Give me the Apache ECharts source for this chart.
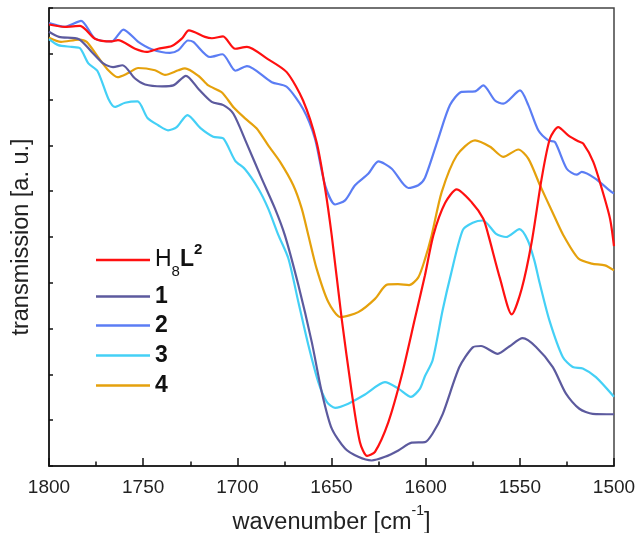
<!DOCTYPE html>
<html>
<head>
<meta charset="utf-8">
<script src="https://cdn.jsdelivr.net/npm/echarts@6/dist/echarts.min.js"></script>
<style>html,body{margin:0;padding:0;background:#fff}#c{width:636px;height:533px}</style>
</head>
<body>
<div id="c"></div>
<script>
var seriesNames = ['H8L2', '1', '2', '3', '4'];
var xTicks = [1800, 1750, 1700, 1650, 1600, 1550, 1500];

var h8l2W = [1800,1791.5,1783.5,1775.6,1766.7,1763.4,1754.3,1748.1,1742.1,1734.8,1729.5,1725.7,1717.2,1713.5,1707.6,1701.2,1694.9,1684.4,1673.8,1665.1,1657.9,1653.4,1649.9,1644.6,1639.3,1634.9,1631.1,1626.9,1619.8,1612.7,1605.7,1600.4,1595.9,1589.7,1583.5,1575.6,1569.4,1566.7,1560.5,1554.3,1549.0,1543.7,1538.4,1534.0,1529.6,1524.3,1519.0,1516.3,1511.0,1506.5,1502.1,1500];
var h8l2V = [9.64,9.59,9.61,9.33,9.27,9.30,9.11,9.04,9.11,9.17,9.33,9.51,9.37,9.34,9.38,9.11,9.15,8.90,8.60,7.98,7.07,6.06,5.04,3.22,1.62,0.52,0.22,0.31,0.96,1.98,3.22,4.16,5.04,5.74,6.04,5.76,5.40,5.04,4.09,3.31,3.87,4.89,6.28,7.15,7.40,7.22,7.09,7.04,6.64,6.06,5.40,4.80];

var s1W = [1800,1794.7,1784.1,1777.3,1771.2,1766,1761,1754.3,1749,1740,1734,1727.3,1720.4,1713.6,1707.4,1702.1,1695,1687.1,1680,1674.7,1667.6,1660.5,1655.2,1649.9,1642.8,1635.8,1628.7,1621.6,1614.5,1607.4,1600.4,1596.3,1590.9,1582.1,1575,1570.6,1561.7,1555.6,1548.5,1541.4,1532.5,1525.5,1518.4,1511.3,1500];
var s1V = [9.48,9.37,9.32,9.04,8.79,8.71,8.75,8.46,8.33,8.29,8.31,8.52,8.22,7.95,7.88,7.69,7.04,6.28,5.62,5.03,3.95,2.71,1.62,0.82,0.38,0.20,0.12,0.20,0.34,0.51,0.52,0.71,1.14,2.16,2.59,2.62,2.45,2.61,2.79,2.60,2.16,1.58,1.25,1.14,1.13];

var s2W = [1800,1791.5,1783,1775.6,1766.7,1760.5,1752.6,1745.5,1735.8,1731.3,1726.2,1723.4,1714.5,1707.9,1701,1694.9,1681.7,1673.8,1665,1658.8,1653.4,1648.1,1642.8,1637.5,1630.5,1625.1,1618,1609.2,1603.9,1600.4,1593.3,1587.1,1580.9,1573.8,1569.4,1563.2,1558.8,1549.9,1545.5,1540.2,1534.9,1531.3,1525.1,1519.8,1517.1,1510.1,1501.2,1500];
var s2V = [9.67,9.59,9.72,9.33,9.27,9.53,9.26,9.10,9.02,9.08,9.29,9.26,8.93,8.99,8.63,8.73,8.38,8.28,7.79,7.15,6.13,5.71,5.80,6.13,6.38,6.65,6.49,6.07,6.13,6.29,7.15,7.88,8.17,8.18,8.31,7.98,7.91,8.20,7.88,7.33,7.11,7.07,6.49,6.36,6.42,6.28,5.98,5.95];

var s3W = [1800,1795.1,1787.9,1783.5,1779.1,1774.2,1768.5,1765,1759.6,1753,1747.7,1742,1736.8,1732.2,1726.5,1719.4,1712.8,1707.4,1701.2,1695.9,1688.9,1683.6,1678.2,1672.9,1667.6,1662.3,1657,1652.5,1648.1,1641.1,1632.2,1621.6,1614.5,1607.8,1603,1600.4,1596.3,1591,1586.5,1580.3,1575,1569.6,1562.6,1557.3,1550.2,1545.8,1542.3,1539.5,1534.3,1527.2,1521.9,1516.6,1509.6,1500];
var s3V = [9.32,9.19,9.15,9.12,8.79,8.62,8.02,7.84,7.93,7.96,7.60,7.44,7.33,7.40,7.66,7.37,7.19,7.15,6.67,6.48,6.06,5.62,5.04,4.53,3.58,2.64,1.83,1.40,1.27,1.36,1.56,1.83,1.69,1.51,1.69,1.96,2.31,3.40,4.20,5.15,5.31,5.36,5.07,5.00,5.17,4.93,4.49,4.00,3.18,2.38,2.16,2.13,1.94,1.51];

var s4W = [1800,1793.6,1784.1,1780,1774,1768.5,1763.6,1757.9,1752.7,1743.7,1738.4,1731.3,1727.8,1720.4,1715.4,1708.3,1701.8,1695.9,1689.7,1683.6,1677.3,1670.3,1665.8,1662.3,1657.9,1651.7,1645.2,1635.8,1626.9,1620.5,1614.7,1608.8,1603.9,1600.4,1596.8,1591.5,1583.5,1573.8,1565.8,1558.8,1550.8,1545.5,1539.3,1533.1,1526.9,1518.9,1511.8,1504.8,1500];
var s4V = [9.35,9.26,9.31,9.26,8.93,8.64,8.49,8.58,8.69,8.64,8.54,8.64,8.68,8.51,8.31,8.16,7.82,7.59,7.37,7.00,6.64,6.13,5.62,5.04,4.31,3.58,3.25,3.36,3.65,3.96,3.97,3.95,4.12,4.51,5.04,5.98,6.78,7.11,6.97,6.75,6.91,6.71,6.13,5.58,5.04,4.53,4.42,4.38,4.27];

var colors = ['#ff1010', '#5c5a9e', '#5b7df4', '#44d0f6', '#e5a10c'];

function pairs(w, v) { return w.map(function (x, i) { return [x, v[i]]; }); }
var allW = [h8l2W, s1W, s2W, s3W, s4W];
var allV = [h8l2V, s1V, s2V, s3V, s4V];

var FONT = '"Liberation Sans", Arial, sans-serif';
var legendTops = [242, 285, 314, 344, 374];

var legends = seriesNames.map(function (n, i) {
  return {
    data: [{name: n, icon: 'rect'}], left: 96, top: legendTops[i], padding: 0,
    itemWidth: 54, itemHeight: 2.6, selectedMode: false,
    formatter: i === 0 ? '{h|H}{sub|8}{l|L}{sup|2}' : '{n|' + n + '}',
    textStyle: {
      fontFamily: FONT, color: '#111',
      rich: {
        h: {fontSize: 23, fontFamily: FONT, color: '#111', lineHeight: 26},
        sub: {fontSize: 15, fontFamily: FONT, color: '#111', lineHeight: 15, verticalAlign: 'bottom', padding: [0, 0, -6, 0]},
        l: {fontSize: 23, fontWeight: 'bold', fontFamily: FONT, color: '#111', lineHeight: 26},
        sup: {fontSize: 15, fontWeight: 'bold', fontFamily: FONT, color: '#111', lineHeight: 15, verticalAlign: 'top', padding: [-5, 0, 0, 0]},
        n: {fontSize: 23, fontWeight: 'bold', fontFamily: FONT, color: '#111', lineHeight: 26}
      }
    }
  };
});

var chart = echarts.init(document.getElementById('c'), null, {renderer: 'canvas'});
chart.setOption({
  animation: false,
  backgroundColor: '#fff',
  grid: {left: 49, right: 22, top: 8, bottom: 67, containLabel: false, outerBoundsMode: 'none',
    show: true, borderColor: '#444', borderWidth: 1.5, backgroundColor: 'transparent'},
  legend: legends,
  xAxis: {
    type: 'value', min: 1500, max: 1800, interval: 50, inverse: true,
    name: '{a|wavenumber [cm}{sup|-1}{a|]}', nameLocation: 'middle', nameGap: 44,
    nameTextStyle: {
      rich: {
        a: {fontSize: 23.5, fontFamily: FONT, color: '#222', lineHeight: 26},
        sup: {fontSize: 14, fontFamily: FONT, color: '#222', lineHeight: 14, verticalAlign: 'top', padding: [-6, 0, 0, 0]}
      }
    },
    axisLine: {lineStyle: {color: '#111', width: 1.5}},
    axisTick: {inside: true, length: 8, lineStyle: {color: '#111', width: 1.5}},
    minorTick: {show: true, splitNumber: 2, length: 4.5, lineStyle: {color: '#111', width: 1.5}},
    axisLabel: {fontSize: 19, fontFamily: FONT, color: '#222', margin: 12,
      formatter: function (v) { return xTicks.indexOf(v) >= 0 ? String(v) : ''; }},
    splitLine: {show: false}
  },
  yAxis: {
    type: 'value', min: 0, max: 10, interval: 1,
    name: 'transmission [a. u.]', nameLocation: 'middle', nameGap: 15,
    nameTextStyle: {fontSize: 23.5, fontFamily: FONT, color: '#222'},
    axisLine: {show: true, lineStyle: {color: '#111', width: 1.5}},
    axisTick: {inside: true, length: 4, lineStyle: {color: '#111', width: 1.5}},
    axisLabel: {show: false},
    splitLine: {show: false}
  },
  series: seriesNames.map(function (n, i) {
    return {
      name: n, type: 'line', data: pairs(allW[i], allV[i]),
      showSymbol: false, symbol: 'none', smooth: 0.25,
      lineStyle: {color: colors[i], width: 2.2},
      itemStyle: {color: colors[i]},
      z: 10 - i
    };
  })
});
</script>
</body>
</html>
